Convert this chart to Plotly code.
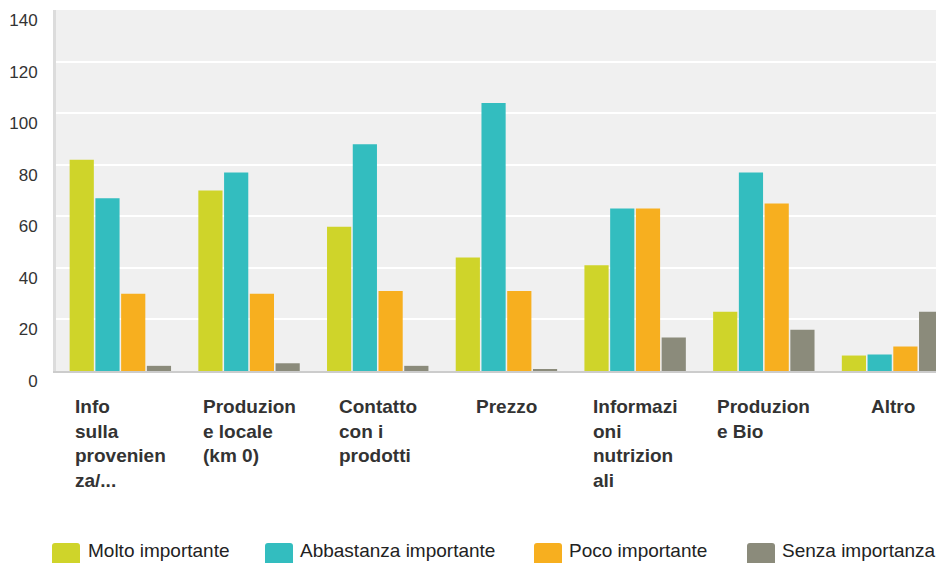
import plotly.graph_objects as go

categories = ["Info sulla provenienza/...", "Produzione locale (km 0)", "Contatto con i prodotti",
              "Prezzo", "Informazioni nutrizionali", "Produzione Bio", "Altro"]
tick_labels = ["Info<br>sulla<br>provenien<br>za/...", "Produzion<br>e locale<br>(km 0)",
               "Contatto<br>con i<br>prodotti", "Prezzo", "Informazi<br>oni<br>nutrizion<br>ali",
               "Produzion<br>e Bio", "Altro"]
series_names = ["Molto importante", "Abbastanza importante", "Poco importante", "Senza importanza"]
molto = [82, 70, 56, 44, 41, 23, 6]
abbastanza = [67, 77, 88, 104, 63, 77, 6.4]
poco = [30, 30, 31, 31, 63, 65, 9.5]
senza = [2, 3, 2, 0.4, 13, 16, 23]
y_ticks = [0, 20, 40, 60, 80, 100, 120, 140]
colors = ["#CFD42A", "#33BDBF", "#F7AF1F", "#8B8B7B"]

OFF = 8  # page body margin
W, H = 944 - OFF, 563 - OFF
L, T = 56 - OFF, 10 - OFF
B = H - (371 - OFF)
plot_w = W - L
plot_h = H - T - B
FONT = "Liberation Sans, Arial, sans-serif"

fig = go.Figure()
for name, vals, col in zip(series_names, [molto, abbastanza, poco, senza], colors):
    fig.add_trace(go.Bar(name=name, x=categories, y=vals, marker=dict(color=col, line=dict(width=0)),
                         showlegend=False))

# category labels (left-aligned lines, centred block)
for cat, lab in zip(categories, tick_labels):
    fig.add_annotation(x=cat, xref="x", y=0, yref="paper", yshift=-23, yanchor="top",
                       xanchor="center", align="left", text=lab, showarrow=False,
                       font=dict(family=FONT, size=19, color="#333333", weight="bold"))

# custom legend (window pixel positions)
leg_sq_x = [52, 265, 534, 747]
leg_txt_x = [86, 298, 567, 780]
def px2x(px):
    return (px - OFF - L) / plot_w
def px2y(py):
    return (H - B - (py - OFF)) / plot_h
for name, col, sx, tx in zip(series_names, colors, leg_sq_x, leg_txt_x):
    x0, x1 = px2x(sx), px2x(sx + 28)
    y0, y1 = px2y(566), px2y(543)
    rx = 3 / plot_w
    ry = 3 / plot_h
    path = (f"M {x0+rx} {y1} L {x1-rx} {y1} Q {x1} {y1} {x1} {y1-ry} L {x1} {y0+ry} "
            f"Q {x1} {y0} {x1-rx} {y0} L {x0+rx} {y0} Q {x0} {y0} {x0} {y0+ry} L {x0} {y1-ry} "
            f"Q {x0} {y1} {x0+rx} {y1} Z")
    fig.add_shape(type="path", xref="paper", yref="paper", path=path,
                  fillcolor=col, line=dict(width=0))
    fig.add_annotation(x=px2x(tx), y=px2y(550), xref="paper", yref="paper", xanchor="left",
                       yanchor="middle", text=name, showarrow=False,
                       font=dict(family=FONT, size=19, color="#222222"))

fig.update_layout(
    width=W, height=H,
    margin=dict(l=L, r=0, t=T, b=B, pad=0),
    paper_bgcolor="white", plot_bgcolor="#F0F0F0",
    barmode="group", bargap=0.2, bargroupgap=0.06,
    font=dict(family=FONT, color="#333333"),
    xaxis=dict(range=[-0.5, 6.4], showticklabels=False, ticks="", showgrid=False,
               showline=True, linecolor="#CCCCCC", linewidth=2, zeroline=False, fixedrange=True),
    yaxis=dict(range=[0, 140.05], tickmode="array", tickvals=y_ticks,
               ticktext=[str(v) for v in y_ticks],
               showgrid=True, gridcolor="white", gridwidth=2,
               zeroline=False, showline=True, linecolor="#DCDCDC", linewidth=3, ticks="",
               tickfont=dict(size=17, color="#333333"), ticklabelstandoff=12, ticklabelshift=10),
)

fig.write_html("out.html")
